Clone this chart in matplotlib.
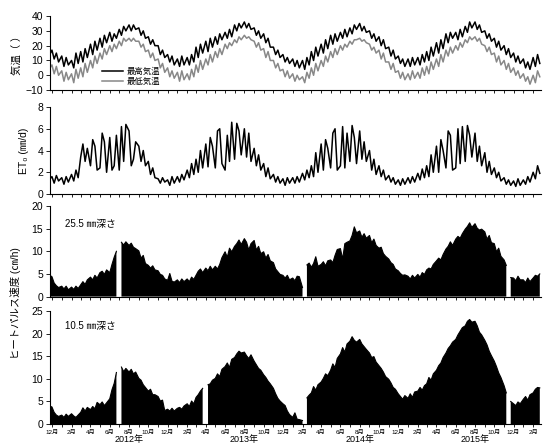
import numpy as np
import pandas as pd
import matplotlib
matplotlib.use("Agg")
import matplotlib.pyplot as plt
import matplotlib.dates as mdates
import matplotlib.transforms as mtransforms

plt.rcParams['font.family'] = ['Liberation Sans', 'Noto Sans CJK JP', 'DejaVu Sans']

nan = np.nan

# 4 Werte pro Monat (1., 8., 15., 22.), Nov 2011 - Feb 2016
months = pd.date_range('2011-11-01', '2016-02-01', freq='MS')
offsets = [0, 7, 14, 21]

tmax = [
    19, 14, 18, 13,  17, 11, 15, 9,  13, 6, 12, 7,  10, 5, 15, 8,
    16, 9, 18, 12,  21, 14, 23, 17,  25, 19, 27, 22,  29, 23, 28, 25,
    31, 27, 33, 30,  34, 30, 34, 31,  32, 27, 30, 25,  26, 21, 24, 20,
    20, 14, 17, 12,  14, 9, 13, 7,  11, 6, 13, 7,  12, 7, 14, 9,
    19, 12, 21, 15,  23, 16, 25, 19,  26, 21, 28, 24,  29, 25, 31, 26,
    34, 30, 35, 32,  36, 32, 35, 31,  32, 27, 30, 25,  28, 22, 25, 19,
    19, 14, 17, 12,  14, 9, 12, 8,  11, 6, 10, 5,  10, 4, 12, 7,
    16, 10, 19, 13,  21, 15, 24, 18,  27, 21, 28, 23,  29, 25, 31, 26,
    32, 28, 34, 31,  35, 30, 33, 29,  30, 25, 28, 23,  26, 20, 24, 18,
    19, 13, 17, 11,  13, 8, 11, 6,  11, 6, 12, 7,  12, 7, 14, 9,
    16, 10, 19, 13,  22, 15, 24, 18,  28, 22, 29, 25,  29, 24, 31, 26,
    33, 29, 36, 32,  36, 31, 34, 29,  30, 25, 28, 23,  25, 19, 23, 17,
    20, 14, 18, 12,  15, 9, 13, 8,  11, 5, 9, 4,  12, 6, 14, 8,
]
tmin = [
    10, 5, 9, 4,  7, 1, 6, 0,  3, -4, 2, -3,  1, -5, 4, -2,
    5, -1, 8, 2,  10, 5, 13, 8,  15, 11, 18, 14,  20, 16, 21, 18,
    23, 20, 25, 23,  25, 23, 25, 23,  23, 19, 21, 16,  17, 12, 15, 10,
    11, 5, 8, 2,  5, -1, 3, -2,  2, -4, 3, -3,  1, -3, 4, -1,
    7, 2, 10, 4,  11, 7, 14, 9,  16, 12, 18, 14,  21, 18, 22, 20,
    24, 22, 26, 24,  27, 25, 26, 24,  23, 19, 22, 17,  18, 12, 16, 10,
    10, 5, 8, 3,  4, -1, 3, -2,  1, -4, 0, -3,  -1, -5, 2, -2,
    5, 0, 8, 3,  10, 6, 13, 9,  16, 12, 18, 14,  20, 17, 21, 19,
    23, 21, 24, 24,  25, 23, 24, 22,  21, 17, 19, 15,  17, 11, 15, 9,
    9, 4, 8, 2,  3, -2, 2, -3,  1, -3, 3, -2,  2, -2, 5, 0,
    6, 1, 9, 4,  11, 6, 14, 9,  17, 13, 19, 15,  20, 17, 22, 19,
    24, 22, 26, 24,  26, 23, 25, 21,  20, 16, 19, 14,  15, 9, 13, 7,
    10, 4, 8, 2,  5, 0, 3, -2,  1, -4, -1, -6,  0, -5, 3, -1,
]
et0 = [
    1.7, 1.2, 1.8, 1.3,  1.6, 1.0, 1.7, 1.2,  1.5, 0.9, 1.6, 1.1,  1.8, 1.2, 2.2, 1.5,
    3.4, 4.6, 3.0, 4.2,  2.6, 5.0, 4.4, 2.2,  2.4, 5.6, 4.8, 2.0,  5.2, 2.2, 2.6, 5.4,
    2.2, 6.2, 3.0, 6.4,  5.8, 2.6, 3.2, 4.8,  4.4, 3.0, 4.0, 2.6,  3.0, 1.8, 2.4, 1.5,
    1.4, 1.0, 1.5, 1.1,  1.3, 0.8, 1.6, 1.0,  1.6, 1.1, 1.8, 1.3,  2.2, 1.5, 2.8, 1.8,
    3.2, 2.0, 4.0, 2.4,  4.6, 2.5, 5.2, 4.4,  2.4, 5.8, 6.0, 2.8,  2.2, 5.4, 3.0, 6.6,
    3.2, 6.5, 5.8, 3.6,  6.0, 3.4, 5.6, 3.0,  4.2, 2.6, 3.6, 2.2,  2.8, 1.6, 2.4, 1.4,
    1.8, 1.1, 1.6, 1.0,  1.4, 0.8, 1.5, 1.0,  1.5, 1.0, 1.6, 1.1,  1.9, 1.3, 2.2, 1.5,
    2.6, 1.6, 3.8, 2.0,  4.6, 2.2, 5.0, 4.2,  2.4, 5.6, 6.0, 2.2,  2.6, 6.2, 2.4, 5.6,
    3.0, 6.3, 5.2, 2.8,  5.8, 3.2, 4.8, 3.0,  4.0, 2.2, 3.2, 1.8,  2.6, 1.6, 2.2, 1.3,
    1.7, 1.1, 1.5, 0.9,  1.3, 0.8, 1.4, 0.9,  1.5, 1.0, 1.6, 1.1,  1.9, 1.3, 2.3, 1.5,
    2.6, 1.6, 3.6, 2.0,  4.4, 2.0, 5.0, 4.0,  2.4, 5.8, 5.4, 2.2,  2.4, 6.0, 2.8, 6.2,
    3.0, 6.3, 5.4, 3.4,  5.6, 3.0, 4.4, 2.6,  3.8, 2.0, 3.0, 1.8,  2.4, 1.5, 2.0, 1.2,
    1.5, 0.9, 1.3, 0.8,  1.2, 0.7, 1.4, 0.8,  1.3, 0.9, 1.6, 1.1,  2.0, 1.4, 2.6, 1.9,
]
sap25 = [
    5.0, 4.6, 5.1, 4.8,  4.4, 3.0, 2.4, 2.0,  2.3, 1.7, 2.3, 1.5,  2.1, 1.6, 2.3, 1.8,
    2.6, 3.3, 2.7, 3.7,  4.3, 3.7, 4.7, 4.1,  5.3, 5.6, 4.9, 5.9,  5.3, 7.1, 8.7, 10.0,
    nan, 12.0, 11.4, 12.1,  11.3, 11.8, 10.9, 10.6,  10.1, 8.5, 9.1, 7.3,  6.9, 6.3, 6.8, 5.9,
    5.7, 4.9, 4.7, 3.9,  3.6, 5.1, 3.4, 3.2,  3.7, 3.1, 3.9, 3.3,  3.9, 3.3, 4.3, 3.8,
    4.7, 5.6, 6.1, 5.3,  6.3, 5.7, 6.7, 5.9,  6.7, 6.1, 7.1, 8.6,  9.9, 8.7, 10.7, 9.9,
    11.1, 11.7, 12.5, 11.5,  12.8, 12.0, 10.3, 11.7,  12.4, 10.3, 11.1, 9.5,  9.9, 8.5, 9.3, 7.9,
    7.5, 6.1, 5.5, 4.9,  4.7, 4.1, 4.7, 3.7,  4.1, 3.5, 4.5, 4.4,  2.0, nan, 7.0, 7.4,
    6.5, 7.3, 8.8, 6.7,  7.1, 7.7, 6.8, 7.9,  8.1, 7.5, 9.1, 10.4,  10.6, 8.3, 11.7, 12.0,
    12.3, 13.5, 15.4, 14.1,  14.5, 13.1, 13.9, 12.9,  13.5, 11.9, 12.7, 11.3,  10.7, 10.9, 9.5, 8.9,
    8.3, 7.5, 7.1, 6.1,  5.7, 5.1, 4.7, 4.8,  4.5, 3.9, 4.7, 4.1,  4.9, 4.3, 5.3, 4.9,
    5.9, 6.3, 6.1, 7.1,  7.9, 8.5, 8.1, 9.3,  10.5, 11.1, 12.1, 11.3,  12.7, 13.3, 12.9, 13.9,
    14.9, 15.5, 16.3, 15.3,  16.1, 15.1, 14.7, 14.9,  14.3, 12.7, 13.5, 11.9,  11.7, 9.9, 10.7, 8.9,
    8.1, 6.9, nan, 4.2,  4.1, 3.5, 4.5, 3.7,  3.7, 3.1, 4.1, 3.3,  4.1, 4.7, 4.5, 5.0,
]
sap10 = [
    4.2, 3.8, 4.4, 4.0,  3.8, 2.6, 2.0, 1.7,  2.0, 1.5, 2.2, 1.7,  2.3, 1.8, 1.5, 2.0,
    2.6, 3.6, 2.9, 3.7,  3.2, 3.9, 3.4, 4.8,  4.3, 4.9, 4.1, 4.7,  5.6, 7.6, 9.0, 11.4,
    nan, 12.6, 11.6, 12.3,  11.5, 12.1, 11.1, 11.5,  10.1, 9.7, 8.7, 8.1,  7.3, 7.7, 6.5, 6.5,
    6.1, 5.1, 5.3, 3.0,  3.3, 2.9, 3.5, 2.9,  3.5, 3.7, 3.3, 4.0,  4.5, 3.9, 5.1, 4.5,
    5.9, 6.5, 7.3, 7.9,  nan, 8.7, 8.9, 9.7,  10.1, 11.1, 10.5, 12.1,  12.7, 13.5, 12.5, 14.3,
    14.7, 15.5, 16.1, 15.7,  15.9, 15.1, 14.5, 15.3,  13.9, 13.1, 12.3, 11.9,  10.9, 10.3, 9.5, 8.9,
    7.9, 6.7, 5.7, 5.1,  4.5, 4.1, 2.9, 2.1,  1.5, 2.5, 1.1, 1.0,  0.8, nan, 5.8, 6.4,
    6.9, 8.3, 7.5, 8.7,  9.3, 10.1, 11.1, 10.7,  11.9, 13.3, 12.5, 14.5,  15.5, 16.9, 15.9, 17.7,
    18.3, 19.3, 18.5, 18.1,  18.7, 17.7, 17.1, 16.5,  15.7, 14.7, 14.9, 13.7,  12.9, 12.3, 11.5, 10.5,
    9.9, 9.1, 8.1, 7.7,  6.7, 6.1, 5.5, 6.3,  5.7, 6.7, 5.9, 7.1,  7.3, 8.1, 7.5, 8.5,
    8.9, 10.3, 9.7, 11.1,  11.9, 12.9, 13.5, 14.7,  15.7, 16.7, 17.3, 18.1,  18.7, 19.7, 20.5, 21.3,
    21.7, 22.7, 23.1, 22.5,  22.7, 21.7, 20.3, 19.7,  18.5, 17.5, 16.1, 15.1,  13.9, 12.7, 11.3, 10.3,
    8.5, 6.9, nan, 5.0,  4.5, 4.1, 4.9, 4.5,  5.5, 6.1, 5.3, 6.5,  6.9, 7.7, 8.1, 8.0,
]
years = [2012, 2013, 2014, 2015]

dates = pd.DatetimeIndex([m + pd.Timedelta(days=d) for m in months for d in offsets])

fig = plt.figure(figsize=(5.44, 4.46), dpi=100)
L, W = 0.092, 0.902
ax1 = fig.add_axes([L, 0.798, W, 0.166])
ax2 = fig.add_axes([L, 0.565, W, 0.195], sharex=ax1)
ax3 = fig.add_axes([L, 0.335, W, 0.203], sharex=ax1)
ax4 = fig.add_axes([L, 0.049, W, 0.254], sharex=ax1)
axes = [ax1, ax2, ax3, ax4]

ax1.plot(dates, tmax, color='black', lw=1.1, label='最高気温')
ax1.plot(dates, tmin, color='#888888', lw=1.1, label='最低気温')
ax1.set_ylim(-10, 40)
ax1.set_yticks([-10, 0, 10, 20, 30, 40])
ax1.set_ylabel('気温（ ）', fontsize=7.5, labelpad=2)
ax1.legend(loc='lower left', bbox_to_anchor=(0.09, -0.05), frameon=False,
           fontsize=6, handlelength=2.6, handletextpad=0.4, labelspacing=0.25)

ax2.plot(dates, et0, color='black', lw=1.1)
ax2.set_ylim(0, 8)
ax2.set_yticks([0, 2, 4, 6, 8])
ax2.set_ylabel('ET₀ (㎜/d)', fontsize=7.5, labelpad=6)

for ax, vals, top, lab, ty in [(ax3, sap25, 20, '25.5 ㎜深さ', 0.80),
                               (ax4, sap10, 25, '10.5 ㎜深さ', 0.87)]:
    v = np.array(vals, dtype=float)
    ax.fill_between(dates, 0, v, color='black', lw=0)
    ax.plot(dates, v, color='black', lw=0.8)
    ax.set_ylim(0, top)
    ax.set_yticks(np.arange(0, top + 1, 5))
    ax.text(0.03, ty, lab, transform=ax.transAxes, fontsize=7, ha='left', va='center')

fig.text(0.028, 0.32, 'ヒートパルス速度 (㎝/h)', rotation=90, fontsize=7.5, ha='center', va='center')

for ax in axes:
    for s in ['top', 'right']:
        ax.spines[s].set_visible(False)
    ax.spines['left'].set_linewidth(0.8)
    ax.spines['bottom'].set_linewidth(0.8)
    ax.tick_params(axis='y', labelsize=7.5, length=3, width=0.6, pad=2)
    ax.xaxis.set_major_locator(mdates.MonthLocator(bymonth=[2, 4, 6, 8, 10, 12]))
    ax.xaxis.set_minor_locator(mdates.MonthLocator())
    ax.tick_params(axis='x', which='both', length=2.5, width=0.6, direction='out')
    ax.set_xlim(pd.Timestamp('2011-11-25'), pd.Timestamp('2016-02-25'))

for ax in axes[:3]:
    ax.tick_params(axis='x', labelbottom=False)

ax4.xaxis.set_major_formatter(plt.FuncFormatter(lambda x, pos: f'{mdates.num2date(x).month}月'))
ax4.tick_params(axis='x', labelsize=4.5, pad=2)

trans = mtransforms.blended_transform_factory(ax4.transData, ax4.transAxes)
for y in years:
    ax4.text(pd.Timestamp(f'{y}-08-01'), -0.135, f'{y}年', transform=trans,
             fontsize=6.5, ha='center', va='center')

fig.savefig('out.png', dpi=100)
